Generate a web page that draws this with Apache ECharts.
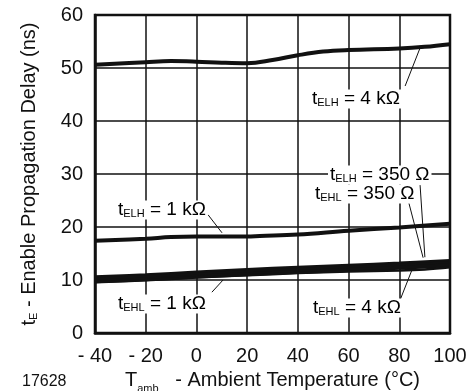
<!DOCTYPE html>
<html>
<head>
<meta charset="utf-8">
<script src="https://cdn.jsdelivr.net/npm/echarts@6/dist/echarts.min.js"></script>
<style>
  html, body { margin: 0; padding: 0; background: #fff; }
  #chart { width: 469px; height: 391px; }
</style>
</head>
<body>
<div id="chart"></div>
<script>
// temperature (°C) vs enable propagation delay (ns)
const elh4k = [[-40, 50.6], [-20, 51.1], [-10, 51.3], [0, 51.2], [10, 51.0], [20, 50.9], [30, 51.5], [40, 52.4], [50, 53.1], [60, 53.4], [80, 53.7], [90, 54.0], [100, 54.5]];
const elh1k = [[-40, 17.4], [-20, 17.8], [-10, 18.1], [0, 18.2], [20, 18.2], [25, 18.3], [40, 18.6], [60, 19.3], [80, 19.9], [100, 20.6]];
const elh350 = [[-40, 10.5], [-20, 10.9], [0, 11.4], [20, 11.9], [40, 12.3], [60, 12.7], [80, 13.1], [100, 13.6]];
const ehl350 = [[-40, 10.1], [-20, 10.5], [0, 11.0], [20, 11.5], [40, 11.9], [60, 12.3], [80, 12.7], [100, 13.2]];
const ehl1k = [[-40, 9.7], [-20, 10.1], [0, 10.6], [20, 11.1], [40, 11.5], [60, 11.9], [80, 12.3], [100, 12.8]];
const ehl4k = [[-40, 9.6], [-20, 10.0], [0, 10.5], [20, 10.9], [40, 11.3], [60, 11.6], [80, 11.8], [90, 12.0], [100, 12.4]];

const xTicks = [-40, -20, 0, 20, 40, 60, 80, 100];
const yTicks = [0, 10, 20, 30, 40, 50, 60];

// leader lines for the curve labels, in data coordinates
const leaders = [
  [[82.3, 46.6], [88.2, 53.8]],
  [[88.2, 27.9], [90.1, 14.3]],
  [[83.8, 24.5], [89.4, 14.2]],
  [[4.6, 22.3], [10.1, 18.9]],
  [[6.1, 7.7], [10.5, 10.0]],
  [[80.3, 6.2], [85.0, 11.9]]
];

const font = 'Liberation Sans, Arial, sans-serif';
const narrow = 'Liberation Sans Narrow, Arial Narrow, Liberation Sans, sans-serif';
const chart = echarts.init(document.getElementById('chart'));

const rich = {
  t: { fontSize: 19, fontFamily: font, color: '#111', verticalAlign: 'bottom' },
  s: { fontSize: 11, fontFamily: font, color: '#111', verticalAlign: 'bottom' }
};

function lbl(x, y, sub, rest) {
  return {
    type: 'text', x: x, y: y,
    style: {
      text: '{t|t}{s|' + sub + '}{t| = ' + rest + '}', rich: rich,
      verticalAlign: 'middle', backgroundColor: '#fff', padding: [0, 2, 0, 2]
    },
    z: 100
  };
}

function line(data, w) {
  return {
    type: 'line', data: data, smooth: 0.4, symbol: 'none',
    lineStyle: { color: '#111', width: w }, z: 5
  };
}

chart.setOption({
  animation: false,
  grid: { left: 95, right: 19, top: 15, bottom: 58, containLabel: false, outerBoundsMode: 'none' },
  xAxis: {
    type: 'value', min: -40, max: 100, interval: 20,
    name: '{a|T}{b|amb}{a|   - Ambient Temperature (°C)}',
    nameLocation: 'middle', nameGap: 36,
    nameTextStyle: {
      rich: {
        a: { fontSize: 20, fontFamily: font, color: '#111', verticalAlign: 'bottom' },
        b: { fontSize: 11, fontFamily: font, color: '#111', verticalAlign: 'bottom', padding: [0, 0, -4, 0] }
      }
    },
    axisLine: { show: true, lineStyle: { color: '#111', width: 2.5 } },
    axisTick: { show: false },
    axisLabel: {
      fontSize: 20, fontFamily: narrow, color: '#111', margin: 13,
      formatter: v => xTicks.includes(v) ? (v < 0 ? '- ' + Math.abs(v) : String(v)) : ''
    },
    splitLine: { show: true, lineStyle: { color: '#111', width: 1.5 } }
  },
  yAxis: {
    type: 'value', min: 0, max: 60, interval: 10,
    name: '{a|t}{b|E}{a| - Enable Propagation Delay (ns)}',
    nameLocation: 'middle', nameGap: 56, nameRotate: 90,
    nameTextStyle: {
      rich: {
        a: { fontSize: 20, fontFamily: font, color: '#111', verticalAlign: 'bottom' },
        b: { fontSize: 11, fontFamily: font, color: '#111', verticalAlign: 'bottom' }
      }
    },
    axisLine: { show: true, onZero: false, lineStyle: { color: '#111', width: 2.5 } },
    axisTick: { show: false },
    axisLabel: {
      fontSize: 20, fontFamily: narrow, color: '#111', margin: 12,
      formatter: v => yTicks.includes(v) ? String(v) : ''
    },
    splitLine: { show: true, lineStyle: { color: '#111', width: 1.5 } }
  },
  graphic: [
    { type: 'rect', shape: { x: 95, y: 15, width: 355, height: 318 }, style: { fill: 'none', stroke: '#111', lineWidth: 2.5 }, z: 50 },
    { type: 'text', x: 22, y: 382, style: { text: '17628', fontSize: 16, fontFamily: font, fill: '#111', verticalAlign: 'middle' } },
    lbl(310, 99, 'ELH', '4 kΩ'),
    lbl(328, 175, 'ELH', '350 Ω'),
    lbl(313, 194, 'EHL', '350 Ω'),
    lbl(116, 210, 'ELH', '1 kΩ'),
    lbl(116, 304, 'EHL', '1 kΩ'),
    lbl(311, 308, 'EHL', '4 kΩ')
  ],
  series: [
    line(elh4k, 4),
    line(elh1k, 4),
    line(elh350, 4),
    line(ehl350, 4),
    line(ehl1k, 4),
    Object.assign(line(ehl4k, 2.5), {
      markLine: {
        silent: true, symbol: 'none', animation: false,
        lineStyle: { color: '#111', width: 1, type: 'solid' },
        label: { show: false },
        data: leaders.map(p => [{ coord: p[0] }, { coord: p[1] }])
      }
    })
  ]
});
</script>
</body>
</html>
